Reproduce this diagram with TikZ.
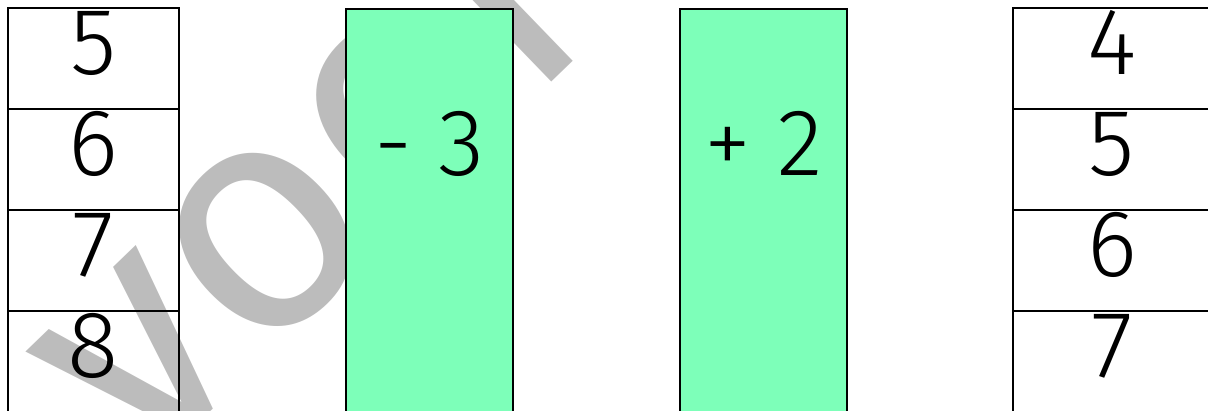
\documentclass[tikz,border=0pt]{standalone}
\usepackage{fontspec}
\setmainfont{Fira Sans Light}
\newfontfamily\markfont{Fira Sans}
\usepackage{tikz}
\usetikzlibrary{
    positioning
}
\definecolor{sheetgreen}{RGB}{125,255,185}
\definecolor{markgray}{RGB}{188,188,188}

\begin{document}
\begin{tikzpicture}[
x=0.02cm, y=-0.02cm,
cell/.style={
draw,
line width=1.1pt,
minimum width=3.42cm,
minimum height=2.02cm,
inner sep=0pt,
outer sep=0pt
},
widecell/.style={
cell,
minimum width=3.96cm
},
opbox/.style={
draw,
fill=sheetgreen,
line width=1.1pt,
minimum width=3.34cm,
minimum height=8.6cm,
inner sep=0pt
},
digit/.style={
font=\fontsize{54}{54}\selectfont,
inner sep=0pt
}
]

\useasboundingbox (0,0) rectangle (1208,410);
\clip (0,0) rectangle (1208,410);

% watermark
\node[text=markgray, font=\markfont\fontsize{185}{185}\selectfont,
anchor=base west, rotate=44, inner sep=0pt] (mark) at (142,478)
{voorbeeld};

% left column
\node[cell, anchor=north west] (left1) at (8,8) {};
\node[cell, below=0pt of left1] (left2) {};
\node[cell, below=0pt of left2] (left3) {};
\node[cell, below=0pt of left3] (left4) {};

% operations
\node[opbox, anchor=north west] (minus) at (345,8) {};
\node[opbox, anchor=north west] (plus) at (679,8) {};

% right column
\node[widecell, anchor=north west] (right1) at (1013,8) {};
\node[widecell, below=0pt of right1] (right2) {};
\node[widecell, below=0pt of right2] (right3) {};
\node[widecell, below=0pt of right3] (right4) {};

\foreach \n/\v in {1/5, 2/6, 3/7, 4/8}
  \node[digit, anchor=base] (leftnum\n) at ([yshift=-1.34cm]left\n.north) {\v};

\foreach \n/\v in {1/4, 2/5, 3/6, 4/7}
  \node[digit, anchor=base] (rightnum\n) at ([yshift=-1.34cm]right\n.north) {\v};

\node[digit, anchor=base] (minustext) at ([yshift=-3.36cm]minus.north) {- 3};
\node[digit, anchor=base] (plustext) at ([yshift=-3.36cm]plus.north) {+ 2};

\end{tikzpicture}
\end{document}
